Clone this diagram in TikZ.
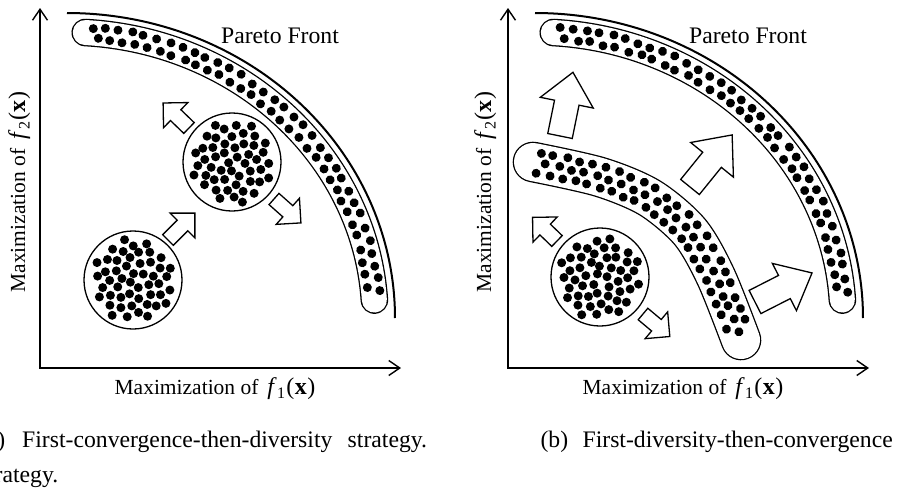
\documentclass[tikz,border=0pt]{standalone}
\usepackage{fontspec}
\setmainfont{Liberation Serif}
\usetikzlibrary{arrows.meta,decorations.markings,calc}

% objective symbol f_i(x)
\newcommand\fobj[1]{{\fontsize{24}{28}\selectfont\textit{f}\kern0.3pt\raisebox{-4.5pt}{\fontsize{16}{18}\selectfont #1}\kern1.2pt(\kern0.5pt\textbf{x}\kern0.5pt)}}
% one solution dot, slightly jittered, at a lateral offset from a path
\newcommand\jdot[1]{\pgfmathsetmacro\jx{1.5*rand}\pgfmathsetmacro\jy{#1+1.2*rand}\fill (\jx pt,\jy pt) circle[radius=4.5pt];}
% hollow block arrow: tail x, tail y, angle, length, shaft width, head width, head length
\newcommand\blockarrow[7]{%
  \begin{scope}[shift={(#1,#2)},rotate=#3]
    \draw[arrowbox] (0,-#5/2) -- (#4-#7,-#5/2) -- (#4-#7,-#6/2) -- (#4,0)
      -- (#4-#7,#6/2) -- (#4-#7,#5/2) -- (0,#5/2) -- cycle;
  \end{scope}}

\begin{document}
\begin{tikzpicture}[x=1pt,y=-1pt,
  axisline/.style={line width=1.4pt,
    arrows={Straight Barb[length=11pt,width=15pt]-Straight Barb[length=11pt,width=15pt]}},
  front/.style={line width=2pt},
  bandedge/.style={black,line cap=round,line join=round},
  bandfill/.style={white,line cap=round,line join=round},
  dotrow/.style 2 args={decorate,decoration={markings,
    mark=between positions #1 and 0.985 step 13pt with {\jdot{#2}}}},
  ring/.style={circle,draw,line width=1.3pt,fill=white,minimum size=98pt,inner sep=0pt},
  arrowbox/.style={draw,fill=white,line width=1.3pt,line join=miter},
  lbl/.style={inner sep=0pt,font=\fontsize{21.5}{26}\selectfont},
  big/.style={inner sep=0pt,font=\fontsize{23.7}{28}\selectfont}]
\pgfmathsetseed{4711}
\useasboundingbox (0,0) rectangle (903,490);
\fill[white] (0,0) rectangle (903,490);
\clip (0,0) rectangle (903,490);

% ---------- axes, Pareto fronts and Pareto-set bands of both panels ----------
\foreach \ox/\p in {0/a,468/b} {
  \coordinate (o\p) at (40+\ox,368);
  \coordinate (y\p) at (40+\ox,8);
  \coordinate (x\p) at (401+\ox,368);
  \draw[axisline] (y\p) -- (o\p) -- (x\p);
  \draw[front] plot[domain=-90:0,samples=90,variable=\t]
    ({67+\ox+328*cos(\t)},{318+305*sin(\t)});
  \draw[bandedge,line width=27.6pt] plot[domain=-86.6:-3.6,samples=80,variable=\t]
    ({67+\ox+308*cos(\t)},{318+286*sin(\t)});
  \draw[bandfill,line width=25pt] plot[domain=-86.6:-3.6,samples=80,variable=\t]
    ({67+\ox+308*cos(\t)},{318+286*sin(\t)});
  \path[dotrow={0.015}{5.5}] plot[domain=-86.6:-3.6,samples=80,variable=\t]
    ({67+\ox+308*cos(\t)},{318+286*sin(\t)});
  \path[dotrow={0.03}{-5.5}] plot[domain=-86.6:-3.6,samples=80,variable=\t]
    ({67+\ox+308*cos(\t)},{318+286*sin(\t)});
}

% ---------- intermediate band of panel (b) ----------
\draw[bandedge,line width=40.6pt] plot[smooth] coordinates
  {(533,162) (600,177) (650,198) (690,232) (716,277) (741,340)};
\draw[bandfill,line width=38pt] plot[smooth] coordinates
  {(533,162) (600,177) (650,198) (690,232) (716,277) (741,340)};
\foreach \st/\lat in {0.02/10.5,0.02/-10.5,0.045/0} {
  \path[dotrow={\st}{\lat}] plot[smooth] coordinates
    {(533,162) (600,177) (650,198) (690,232) (716,277) (741,340)};
}

% ---------- populations ----------
\node[ring] (c1) at (133,280) {};
\node[ring] (c2) at (232,162) {};
\node[ring] (c3) at (600,277) {};
\foreach \c/\off in {c1/0,c2/40,c3/80} {
  \foreach \i in {1,...,50} {
    \pgfmathsetmacro\rr{41.3*sqrt((\i-0.5)/50)}
    \pgfmathsetmacro\aa{\i*137.508+\off}
    \pgfmathsetmacro\dx{0.8*rand}
    \pgfmathsetmacro\dy{0.8*rand}
    \fill[shift={(\c.center)}] ($(\aa:\rr)+(\dx,\dy)$) circle[radius=4.5pt];
  }
}

% ---------- search directions ----------
\blockarrow{168}{240}{45}{38}{15}{35}{17.5}
\blockarrow{189}{128}{136}{36}{15}{35}{17.5}
\blockarrow{274}{199}{-41.6}{36}{15}{35}{17.5}
\blockarrow{560}{136}{78.5}{65}{25}{54}{31}
\blockarrow{690}{187}{51}{67}{24}{55}{32}
\blockarrow{755}{302}{27}{64}{26}{53}{31}
\blockarrow{557}{241}{136}{34}{15}{35}{17.5}
\blockarrow{643}{314}{-40}{35}{15}{35}{17.5}

% ---------- labels ----------
\node[big,anchor=base] (pfa) at (280,43) {Pareto Front};
\node[big,anchor=base] (pfb) at (748,43) {Pareto Front};
\node[lbl,anchor=base] (xla) at (215,394) {Maximization of\hspace{9pt}\fobj{1}};
\node[lbl,anchor=base] (xlb) at (683,394) {Maximization of\hspace{9pt}\fobj{1}};
\node[lbl,anchor=base,rotate=90] (yla) at (25,192) {Maximization of\hspace{9pt}\fobj{2}};
\node[lbl,anchor=base,rotate=90] (ylb) at (491,192) {Maximization of\hspace{9pt}\fobj{2}};

% ---------- captions ----------
\node[big,anchor=base west] (capa) at (-21.3,447)
  {(a)\hspace{17pt}First-convergence-then-diversity\hspace{15.3pt}strategy.};
\node[big,anchor=base west] (capa2) at (-21.3,482) {strategy.};
\node[big,anchor=base east] (capb) at (893,447)
  {(b)\hspace{14.4pt}First-diversity-then-convergence};
\end{tikzpicture}
\end{document}
